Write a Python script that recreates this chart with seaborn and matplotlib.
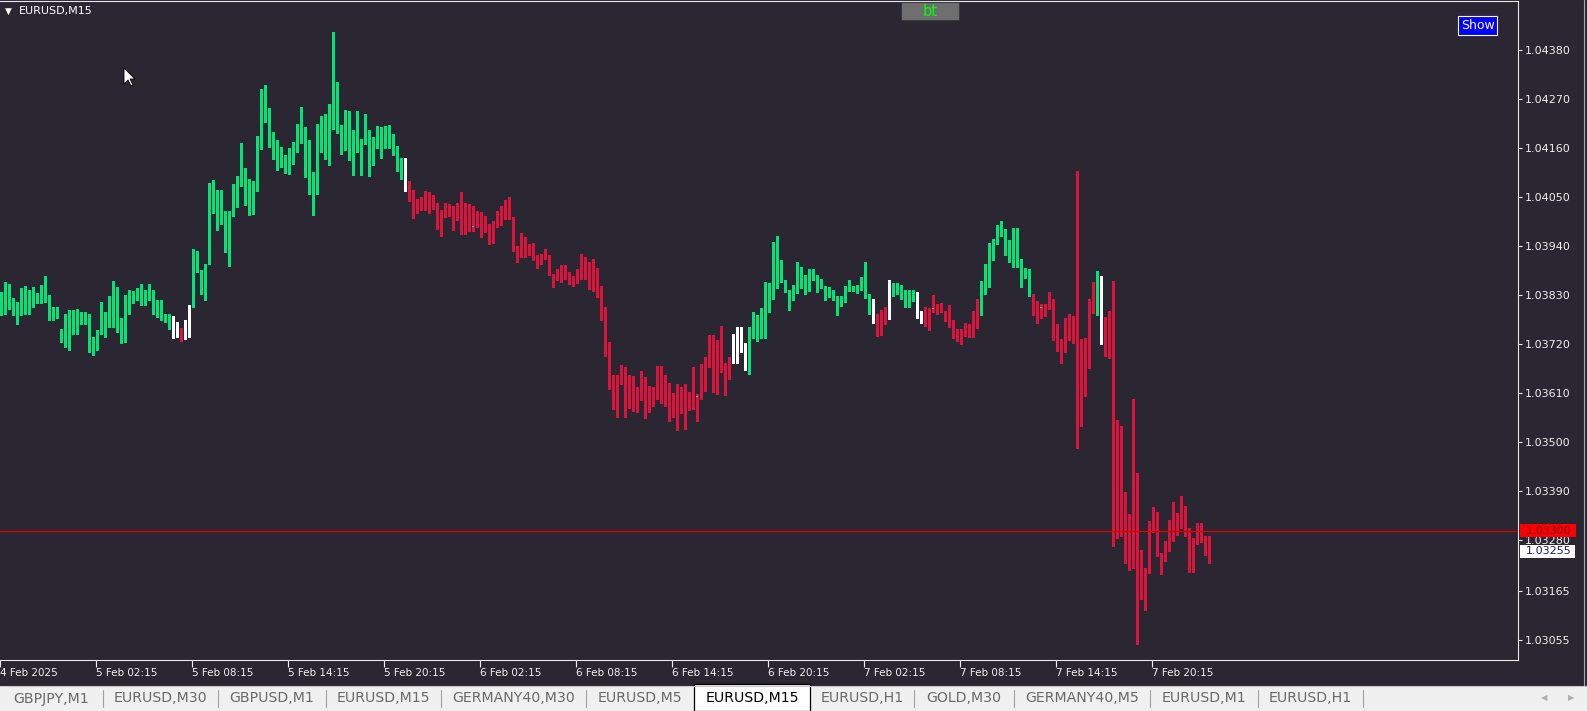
import numpy as np
import matplotlib
matplotlib.use('Agg')
import matplotlib.pyplot as plt
import seaborn as sns
from matplotlib.patches import Rectangle, Polygon
from matplotlib.lines import Line2D

sns.set_theme(style='dark', rc={'axes.grid': False})
plt.rcParams['font.family'] = ['DejaVu Sans']

# EURUSD M15 bars, 4 Feb 20:15 .. 7 Feb 23:45, prices in points above 1.00000
high = [
    3836, 3859, 3855, 3822, 3814, 3846, 3849, 3842, 3848, 3834,
    3852, 3872, 3830, 3803, 3803, 3754, 3788, 3795, 3795, 3798,
    3792, 3792, 3788, 3736, 3752, 3814, 3792, 3827, 3861, 3848,
    3777, 3829, 3842, 3839, 3846, 3855, 3840, 3854, 3840, 3818,
    3818, 3788, 3788, 3782, 3769, 3756, 3774, 3807, 3934, 3929,
    3887, 3900, 4082, 4089, 4065, 4065, 4018, 4018, 4080, 4096,
    4170, 4114, 4091, 4085, 4186, 4292, 4301, 4249, 4195, 4177,
    4162, 4144, 4160, 4174, 4213, 4251, 4207, 4177, 4106, 4213,
    4231, 4236, 4258, 4420, 4308, 4211, 4245, 4243, 4200, 4243,
    4180, 4236, 4200, 4185, 4209, 4207, 4209, 4211, 4191, 4164,
    4137, 4137, 4085, 4065, 4045, 4049, 4063, 4061, 4054, 4036,
    4021, 4037, 4034, 4030, 4036, 4060, 4036, 4034, 4030, 4018,
    4016, 4007, 3989, 3996, 4018, 4030, 4043, 4050, 4005, 3940,
    3969, 3960, 3944, 3947, 3920, 3922, 3933, 3920, 3877, 3888,
    3897, 3897, 3881, 3872, 3888, 3922, 3916, 3904, 3911, 3890,
    3850, 3803, 3724, 3650, 3650, 3672, 3668, 3650, 3648, 3624,
    3658, 3646, 3625, 3624, 3671, 3671, 3650, 3633, 3609, 3630,
    3624, 3631, 3612, 3667, 3607, 3674, 3691, 3740, 3741, 3728,
    3760, 3678, 3691, 3743, 3758, 3758, 3722, 3758, 3791, 3785,
    3800, 3859, 3856, 3949, 3962, 3908, 3863, 3841, 3852, 3904,
    3893, 3874, 3889, 3889, 3874, 3866, 3850, 3848, 3841, 3827,
    3827, 3851, 3863, 3850, 3852, 3871, 3904, 3832, 3821, 3788,
    3796, 3803, 3863, 3857, 3856, 3852, 3841, 3841, 3841, 3836,
    3794, 3802, 3800, 3830, 3809, 3812, 3794, 3807, 3773, 3753,
    3753, 3767, 3764, 3794, 3821, 3861, 3899, 3946, 3955, 3987,
    3996, 3979, 3953, 3980, 3980, 3911, 3890, 3888, 3832, 3816,
    3809, 3809, 3836, 3821, 3764, 3731, 3778, 3787, 3782, 4108,
    3731, 3733, 3821, 3859, 3884, 3872, 3780, 3794, 3861, 3549,
    3535, 3387, 3338, 3596, 3429, 3257, 3216, 3322, 3353, 3342,
    3250, 3277, 3324, 3365, 3340, 3378, 3356, 3306, 3284, 3317,
    3317, 3288, 3288,
]
body_top = [
    3833, 3849, 3849, 3809, 3809, 3803, 3814, 3836, 3836, 3825,
    3849, 3849, 3828, 3798, 3798, 3746, 3774, 3774, 3758, 3786,
    3786, 3790, 3788, 3722, 3749, 3779, 3782, 3797, 3844, 3844,
    3771, 3827, 3828, 3830, 3840, 3840, 3836, 3839, 3839, 3804,
    3804, 3777, 3782, 3782, 3749, 3744, 3773, 3801, 3929, 3929,
    3864, 3899, 4067, 4067, 4043, 4022, 4018, 4018, 4034, 4087,
    4114, 4114, 4085, 4067, 4177, 4237, 4247, 4247, 4190, 4170,
    4144, 4141, 4149, 4168, 4186, 4207, 4207, 4130, 4096, 4202,
    4213, 4213, 4218, 4335, 4245, 4198, 4218, 4218, 4177, 4177,
    4175, 4195, 4195, 4175, 4195, 4193, 4182, 4191, 4191, 4150,
    4132, 4132, 4074, 4065, 4040, 4041, 4045, 4045, 4037, 4032,
    4021, 4016, 4027, 4028, 4036, 4034, 4025, 4025, 3982, 4017,
    4016, 3994, 3989, 3987, 3996, 4009, 4023, 4018, 4005, 3935,
    3947, 3947, 3934, 3933, 3915, 3917, 3917, 3915, 3877, 3881,
    3886, 3884, 3879, 3859, 3868, 3913, 3913, 3897, 3886, 3886,
    3843, 3794, 3715, 3627, 3645, 3659, 3663, 3614, 3607, 3598,
    3639, 3639, 3624, 3621, 3666, 3668, 3618, 3616, 3601, 3618,
    3621, 3614, 3607, 3601, 3600, 3657, 3670, 3724, 3724, 3704,
    3704, 3661, 3687, 3691, 3738, 3740, 3706, 3755, 3782, 3782,
    3787, 3796, 3848, 3944, 3944, 3888, 3861, 3841, 3845, 3881,
    3879, 3861, 3886, 3881, 3867, 3866, 3850, 3842, 3832, 3826,
    3824, 3847, 3848, 3850, 3850, 3869, 3872, 3830, 3803, 3773,
    3787, 3787, 3834, 3836, 3850, 3850, 3836, 3836, 3825, 3823,
    3794, 3794, 3800, 3800, 3807, 3807, 3794, 3782, 3764, 3747,
    3749, 3762, 3764, 3760, 3814, 3848, 3888, 3917, 3953, 3979,
    3980, 3973, 3944, 3976, 3978, 3906, 3886, 3877, 3830, 3809,
    3800, 3809, 3821, 3821, 3764, 3715, 3740, 3767, 3767, 3722,
    3695, 3733, 3812, 3814, 3850, 3848, 3747, 3771, 3771, 3549,
    3349, 3349, 3272, 3423, 3425, 3198, 3214, 3299, 3313, 3313,
    3248, 3254, 3302, 3322, 3322, 3335, 3335, 3295, 3275, 3304,
    3304, 3288, 3266,
]
body_bot = [
    3788, 3792, 3803, 3804, 3794, 3794, 3801, 3812, 3825, 3822,
    3822, 3824, 3780, 3780, 3782, 3734, 3754, 3754, 3747, 3750,
    3767, 3767, 3709, 3709, 3719, 3744, 3779, 3782, 3774, 3767,
    3728, 3728, 3826, 3829, 3827, 3809, 3809, 3834, 3788, 3788,
    3776, 3774, 3774, 3747, 3741, 3739, 3737, 3771, 3803, 3884,
    3843, 3843, 3899, 4041, 4020, 4014, 3967, 3967, 4015, 4031,
    4085, 4084, 4034, 4037, 4065, 4176, 4237, 4187, 4169, 4129,
    4129, 4115, 4113, 4147, 4169, 4185, 4126, 4095, 4072, 4072,
    4200, 4162, 4162, 4245, 4196, 4168, 4168, 4137, 4137, 4159,
    4159, 4173, 4123, 4125, 4171, 4166, 4166, 4180, 4147, 4122,
    4122, 4069, 4065, 4018, 4020, 4032, 4032, 4032, 4030, 3980,
    3980, 4007, 4018, 3998, 3998, 3968, 3968, 3977, 3982, 3983,
    3989, 3987, 3970, 3970, 3987, 3994, 4007, 4003, 3933, 3926,
    3929, 3929, 3929, 3908, 3907, 3913, 3913, 3875, 3863, 3863,
    3880, 3877, 3856, 3854, 3857, 3866, 3895, 3848, 3850, 3839,
    3794, 3711, 3620, 3612, 3612, 3644, 3612, 3607, 3588, 3590,
    3595, 3565, 3567, 3603, 3606, 3607, 3606, 3598, 3560, 3561,
    3612, 3605, 3585, 3574, 3600, 3596, 3655, 3668, 3616, 3614,
    3657, 3657, 3660, 3686, 3686, 3704, 3663, 3661, 3753, 3751,
    3751, 3785, 3794, 3846, 3888, 3859, 3839, 3821, 3821, 3841,
    3848, 3850, 3859, 3865, 3866, 3847, 3818, 3830, 3829, 3805,
    3814, 3826, 3842, 3842, 3846, 3842, 3824, 3799, 3771, 3742,
    3742, 3782, 3782, 3831, 3833, 3825, 3825, 3821, 3821, 3778,
    3778, 3762, 3762, 3799, 3798, 3791, 3780, 3762, 3746, 3745,
    3745, 3746, 3753, 3755, 3758, 3812, 3845, 3886, 3916, 3951,
    3971, 3944, 3906, 3906, 3904, 3884, 3875, 3827, 3807, 3798,
    3800, 3798, 3809, 3762, 3708, 3708, 3713, 3738, 3731, 3693,
    3630, 3630, 3729, 3798, 3798, 3744, 3706, 3706, 3544, 3333,
    3333, 3245, 3243, 3270, 3194, 3180, 3183, 3212, 3299, 3245,
    3247, 3243, 3254, 3299, 3317, 3317, 3293, 3207, 3207, 3272,
    3286, 3266, 3252,
]
low = [
    3784, 3788, 3799, 3784, 3765, 3784, 3788, 3788, 3803, 3812,
    3812, 3814, 3774, 3773, 3777, 3724, 3713, 3707, 3743, 3743,
    3765, 3765, 3702, 3694, 3706, 3743, 3736, 3758, 3758, 3747,
    3721, 3724, 3788, 3812, 3819, 3807, 3807, 3818, 3786, 3780,
    3773, 3769, 3754, 3734, 3736, 3727, 3730, 3736, 3803, 3882,
    3833, 3818, 3899, 4013, 3975, 3990, 3926, 3895, 4007, 4028,
    4075, 4031, 4009, 4011, 4063, 4157, 4219, 4162, 4135, 4110,
    4117, 4104, 4101, 4123, 4151, 4172, 4095, 4056, 4009, 4056,
    4151, 4135, 4121, 4202, 4194, 4147, 4155, 4134, 4099, 4150,
    4099, 4168, 4096, 4121, 4159, 4137, 4159, 4159, 4144, 4108,
    4090, 4063, 4040, 4003, 4013, 4021, 4021, 4015, 4023, 3977,
    3962, 4004, 4008, 3976, 3998, 3967, 3967, 3974, 3974, 3982,
    3961, 3972, 3945, 3947, 3983, 3988, 4000, 4000, 3929, 3905,
    3916, 3916, 3920, 3908, 3891, 3900, 3911, 3875, 3848, 3863,
    3859, 3866, 3854, 3850, 3857, 3866, 3866, 3843, 3839, 3826,
    3774, 3693, 3618, 3574, 3556, 3631, 3556, 3576, 3570, 3567,
    3594, 3554, 3567, 3580, 3597, 3588, 3580, 3547, 3556, 3526,
    3564, 3529, 3571, 3573, 3547, 3596, 3614, 3667, 3612, 3607,
    3657, 3605, 3641, 3677, 3677, 3702, 3661, 3653, 3734, 3727,
    3734, 3734, 3792, 3821, 3846, 3859, 3837, 3796, 3818, 3834,
    3846, 3832, 3839, 3863, 3837, 3845, 3818, 3826, 3818, 3785,
    3805, 3815, 3839, 3839, 3835, 3841, 3822, 3788, 3767, 3737,
    3740, 3764, 3776, 3827, 3832, 3820, 3803, 3803, 3817, 3778,
    3767, 3760, 3751, 3791, 3787, 3791, 3771, 3758, 3733, 3726,
    3719, 3737, 3735, 3735, 3755, 3785, 3832, 3848, 3908, 3944,
    3962, 3919, 3904, 3892, 3892, 3848, 3868, 3827, 3785, 3767,
    3779, 3782, 3798, 3729, 3704, 3677, 3702, 3729, 3722, 3487,
    3536, 3603, 3666, 3789, 3785, 3720, 3693, 3688, 3266, 3284,
    3288, 3227, 3212, 3216, 3045, 3147, 3122, 3205, 3297, 3243,
    3203, 3232, 3254, 3277, 3290, 3306, 3288, 3207, 3207, 3270,
    3275, 3245, 3227,
]
# candle colour code of the trend indicator (x = doji inside a red run)
color_runs = [('g', 43), ('w', 2), ('r', 1), ('w', 2), ('g', 53), ('w', 1),
              ('r', 16), ('x', 1), ('r', 55), ('x', 1), ('r', 8), ('w', 4),
              ('g', 31), ('w', 1), ('r', 3), ('w', 1), ('g', 6), ('w', 2),
              ('r', 2), ('x', 1), ('r', 11), ('g', 13), ('r', 2), ('x', 1),
              ('r', 13), ('g', 1), ('w', 1), ('r', 27)]

price_ticks = [1.04380, 1.04270, 1.04160, 1.04050, 1.03940, 1.03830, 1.03720,
               1.03610, 1.03500, 1.03390, 1.03280, 1.03165, 1.03055]
time_labels = ['4 Feb 2025', '5 Feb 02:15', '5 Feb 08:15', '5 Feb 14:15',
               '5 Feb 20:15', '6 Feb 02:15', '6 Feb 08:15', '6 Feb 14:15',
               '6 Feb 20:15', '7 Feb 02:15', '7 Feb 08:15', '7 Feb 14:15',
               '7 Feb 20:15']
ask_line = 1.03300
bid_price = 1.03255
tab_names = ['GBPJPY,M1', 'EURUSD,M30', 'GBPUSD,M1', 'EURUSD,M15',
             'GERMANY40,M30', 'EURUSD,M5', 'EURUSD,M15', 'EURUSD,H1',
             'GOLD,M30', 'GERMANY40,M5', 'EURUSD,M1', 'EURUSD,H1']
active_tab = 6

GREEN = '#00e676'
RED = '#dc143c'
WHITE = '#ffffff'
BG = '#2a2632'
W, H = 1587, 711


def fx(x):
    return x / W


def fy(y):
    return 1 - y / H


n = min(len(high), len(low), len(body_top), len(body_bot))
to_price = lambda v: 1 + np.asarray(v[:n], dtype=float) / 1e5
hi, lo, top, bot = to_price(high), to_price(low), to_price(body_top), to_price(body_bot)
codes = ''.join(c * k for c, k in color_runs)[:n].ljust(n, 'r')
wick_map = {'g': GREEN, 'r': RED, 'w': WHITE, 'x': RED}
body_map = {'g': GREEN, 'r': RED, 'w': WHITE, 'x': GREEN}
idx = np.arange(n)

fig = plt.figure(figsize=(W / 100, H / 100), dpi=100)
fig.patch.set_facecolor(BG)
ax = fig.add_axes([0, 51 / H, 1518 / W, 659 / H])
ax.set_facecolor(BG)

ax.vlines(idx, lo, hi, colors=[wick_map[c] for c in codes], linewidth=1.0,
          antialiased=False, zorder=2)
px = 2.25e-5  # one screen pixel in price
ax.bar(idx, np.maximum(top - bot, px), bottom=bot, width=0.68,
       color=[body_map[c] for c in codes], linewidth=0, antialiased=False, zorder=3)
ax.axhline(ask_line, color='#e00000', linewidth=0.9, zorder=4)

ax.set_xlim(-0.25, 379.25)
ax.set_ylim(1.030101, 1.044900)

ax.spines['left'].set_visible(False)
for side in ['right', 'bottom', 'top']:
    ax.spines[side].set_color('#e8e8e8')
    ax.spines[side].set_linewidth(0.8)

ax.yaxis.tick_right()
ax.set_yticks(price_ticks)
ax.set_yticklabels([f'{p:.5f}' for p in price_ticks])
ax.tick_params(axis='y', right=True, left=False, direction='out', length=3,
               width=0.8, colors='#f0f0f0', labelsize=8, pad=2)
ax.set_xticks(np.arange(len(time_labels)) * 24 - 0.25)
ax.set_xticklabels(time_labels, ha='left')
ax.tick_params(axis='x', bottom=True, direction='out', length=5, width=0.8,
               colors='#f0f0f0', labelsize=7.5, pad=1)
ax.set_xlabel('')
ax.set_ylabel('')

# price boxes on the right scale
fig.add_artist(Rectangle((fx(1520), fy(537)), fx(56), 13 / H, facecolor='#ff0000',
                         edgecolor='none', transform=fig.transFigure, zorder=5))
fig.text(fx(1526), fy(530.5), f'{ask_line:.5f}', color='#7a0000', fontsize=8,
         va='center', ha='left', zorder=6)
fig.add_artist(Rectangle((fx(1520), fy(558)), fx(55), 13 / H, facecolor='#ffffff',
                         edgecolor='none', transform=fig.transFigure, zorder=5))
fig.text(fx(1526), fy(551.5), f'{bid_price:.5f}', color='#1a1a6a', fontsize=8,
         va='center', ha='left', zorder=6)

# symbol caption and buttons
fig.text(fx(5), fy(11), '\u25bc', color='white', fontsize=6.5, va='center', ha='left')
fig.text(fx(19), fy(11), 'EURUSD,M15', color='white', fontsize=8, va='center', ha='left')
fig.add_artist(Rectangle((fx(901), fy(20)), fx(58), 18 / H, facecolor='#6f6f6f',
                         edgecolor='#3a3a3a', linewidth=0.8, transform=fig.transFigure))
fig.text(fx(930), fy(11), 'bt', color='#00ff00', fontsize=10.5, va='center', ha='center')
fig.add_artist(Rectangle((fx(1458), fy(35)), fx(39), 19 / H, facecolor='#0000ff',
                         edgecolor='white', linewidth=0.8, transform=fig.transFigure))
fig.text(fx(1477.5), fy(25.5), 'Show', color='white', fontsize=9, va='center', ha='center')

# mouse pointer
pointer = [(0, 0), (0, 16), (4, 12), (7, 18), (9, 17), (6, 11), (11, 11)]
fig.add_artist(Polygon([(fx(124 + a), fy(68 + b)) for a, b in pointer], closed=True,
                       facecolor='white', edgecolor='black', linewidth=0.6,
                       transform=fig.transFigure))

# window edge
fig.add_artist(Line2D([fx(1583.5)] * 2, [fy(0), fy(686)], color='#a8a8a8',
                      linewidth=0.8, transform=fig.transFigure))

# tab bar
fig.add_artist(Rectangle((0, 0), 1, (711 - 686) / H, facecolor='#f0f0f0',
                         edgecolor='none', transform=fig.transFigure))
fig.add_artist(Line2D([0, 1], [fy(686)] * 2, color='#c8c8c8', linewidth=0.8,
                      transform=fig.transFigure))
edges = [0, 103, 218, 326, 441, 586, 694, 810, 914, 1014, 1150, 1258, 1363]
fig.add_artist(Rectangle((fx(edges[active_tab]), 0),
                         fx(edges[active_tab + 1] - edges[active_tab]), (711 - 684) / H,
                         facecolor='white', edgecolor='black', linewidth=0.9,
                         transform=fig.transFigure))
tab_font = ['Liberation Sans Narrow', 'DejaVu Sans']
for i, name in enumerate(tab_names):
    cx = (edges[i] + edges[i + 1]) / 2
    fig.text(fx(cx), fy(698.5), name, fontsize=10.2, family=tab_font,
             color='black' if i == active_tab else '#6a6a6a', va='center', ha='center')
    if i != active_tab and i + 1 != active_tab:
        xe = edges[i + 1]
        fig.add_artist(Line2D([fx(xe)] * 2, [fy(690), fy(707)], color='#a0a0a0',
                              linewidth=0.8, transform=fig.transFigure))
fig.text(fx(1544), fy(698), '\u25c0', color='#b0b0b0', fontsize=6, va='center', ha='center')
fig.text(fx(1571), fy(698), '\u25b6', color='#b0b0b0', fontsize=6, va='center', ha='center')

fig.savefig('out.png', dpi=100, facecolor=BG)
